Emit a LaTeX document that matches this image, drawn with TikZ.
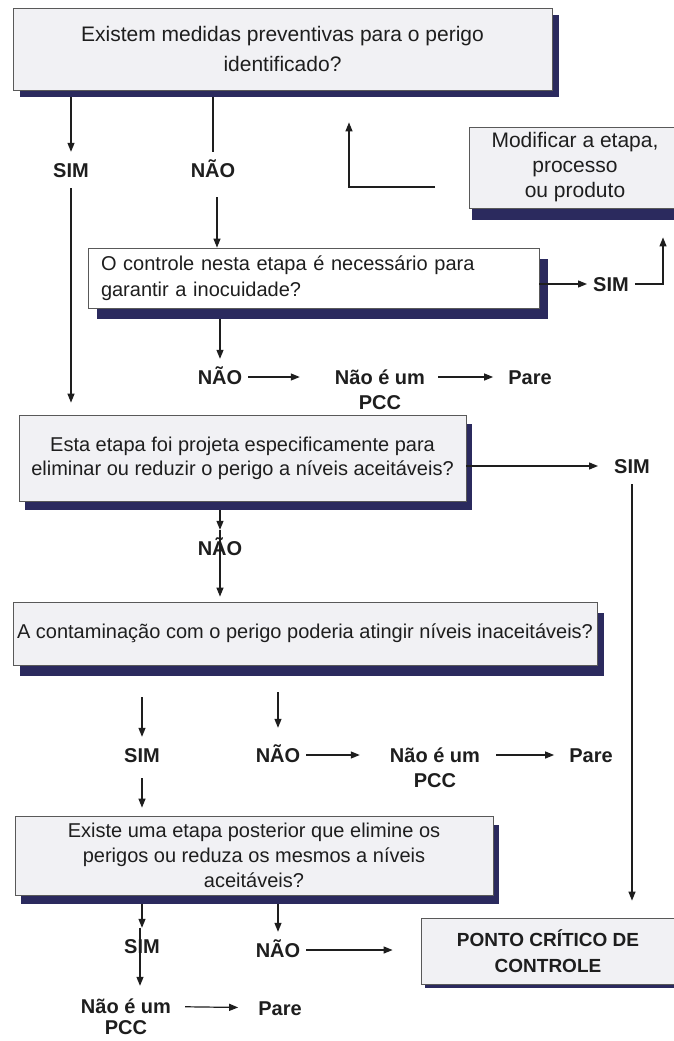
\documentclass[tikz,border=0pt]{standalone}
\usepackage{fontspec}
\setmainfont{Liberation Sans}
\usetikzlibrary{arrows.meta, positioning, calc, shadows}

\definecolor{boxfill}{HTML}{F1F1F4}
\definecolor{navy}{HTML}{2B2A5E}
\definecolor{ink}{HTML}{1E1E1E}

\begin{document}
\begin{tikzpicture}[
		x=1pt, y=1pt,
		>={Triangle[length=9pt, width=7pt]},
		box/.style={rectangle, draw=black!65, line width=0.8pt, fill=boxfill, text=ink, align=center, inner sep=2pt, font=\fontsize{20}{24}\selectfont},
		boxshadow/.style 2 args={drop shadow={shadow xshift=#1, shadow yshift=-#2, opacity=1, fill=navy}},
		lab/.style={font=\bfseries\fontsize{20}{22}\selectfont, text=ink, inner xsep=6pt, inner ysep=10pt, text height=15pt, text depth=1pt},
		ln/.style={line width=1.2pt, draw=ink},
		arr/.style={ln, ->}
		]
		
		\path[use as bounding box, fill=white] (0,0) rectangle (674,-1041);
		
		% Main boxes
		\node[box, boxshadow={7pt}{7pt}, minimum width=539pt, minimum height=82pt, font=\fontsize{21}{30}\selectfont] (q1) at (282.5,-49) {Existem medidas preventivas para o perigo\\identificado?};
		\node[box, boxshadow={3pt}{12pt}, minimum width=212pt, minimum height=81pt, font=\fontsize{21}{25}\selectfont] (mod) at (575,-167.5) {Modificar a etapa,\\processo\\ou produto};
		\node[box, boxshadow={9pt}{11pt}, fill=white, minimum width=451pt, minimum height=60pt, text width=425pt, align=left, inner xsep=13pt, font=\fontsize{20}{26}\selectfont] (q2) at (313.5,-278) {O controle nesta etapa é necessário para\\garantir a inocuidade?};
		\node[box, boxshadow={6pt}{9pt}, minimum width=447pt, minimum height=86pt] (q3) at (242.5,-458) {Esta etapa foi projeta especificamente para\\eliminar ou reduzir o perigo a níveis aceitáveis?};
		\node[box, boxshadow={7pt}{11pt}, minimum width=584pt, minimum height=63pt] (q4) at (305,-633.5) {A contaminação com o perigo poderia atingir níveis inaceitáveis?};
		\node[box, boxshadow={6pt}{9pt}, minimum width=478pt, minimum height=79pt, font=\fontsize{20}{25}\selectfont] (q5) at (254,-855.5) {Existe uma etapa posterior que elimine os\\perigos ou reduza os mesmos a níveis\\aceitáveis?};
		\node[box, boxshadow={4pt}{4pt}, minimum width=254pt, minimum height=66pt, font=\bfseries\fontsize{19}{26}\selectfont] (ponto) at (548,-951) {PONTO CRÍTICO DE\\CONTROLE};
		
		% Answers
		\node[lab] (simA) at (71,-170) {SIM};
		\node[lab] (naoA) at (213,-170) {NÃO};
		\node[lab] (simB) at (611,-284) {SIM};
		\node[lab] (naoB) at (220,-377) {NÃO};
		\node[lab] (ncA) at (380,-377) {Não é um};
		\node[lab] (pccA) at ([yshift=-25pt]ncA) {PCC};
		\node[lab] (pareA) at (530,-377) {Pare};
		\node[lab] (simC) at (632,-466) {SIM};
		\node[lab] (naoC) at (220,-548) {NÃO};
		\node[lab] (simD) at (142,-755) {SIM};
		\node[lab] (naoD) at (278,-755) {NÃO};
		\node[lab] (ncB) at (435,-755) {Não é um};
		\node[lab] (pccB) at ([yshift=-25pt]ncB) {PCC};
		\node[lab] (pareB) at (591,-755) {Pare};
		\node[lab] (simE) at (142,-946) {SIM};
		\node[lab] (naoE) at (278,-950) {NÃO};
		\node[lab] (ncC) at (126,-1006) {Não é um};
		\node[lab, inner ysep=2pt] (pccC) at ([yshift=-21pt]ncC) {PCC};
		\node[lab] (pareC) at (280,-1008) {Pare};
		
		% Arrows
		\draw[arr, shorten <=7pt] (simA |- q1.south) -- (simA);
		\draw[arr, shorten >=12pt] (simA) -- (simA |- q3.north);
		\draw[ln, shorten <=7pt] (naoA |- q1.south) -- (naoA);
		\draw[arr, shorten <=9pt] ([xshift=4pt]naoA.south) -- ([xshift=4pt]naoA.south |- q2.north);
		
		% back to the first question
		\coordinate (ret) at (435,-187);
		\draw[arr, shorten >=32pt] (ret) -| ([xshift=66.5pt]q1.south);
		
		\draw[arr] (q2.east |- simB) -- (simB);
		\draw[arr, shorten >=29pt] (simB) -| ([xshift=88pt]mod.south);
		\draw[arr, shorten <=11pt] (naoB |- q2.south) -- (naoB);
		\draw[arr, shorten >=29pt] (naoB) -- (ncA);
		\draw[arr, shorten <=7pt, shorten >=9pt] (ncA) -- (pareA);
		
		\draw[arr, shorten >=10pt] (q3.east |- simC) -- (simC);
		\draw[arr, shorten >=17pt] (simC) -- (simC |- ponto.north);
		\draw[arr, shorten <=9pt] (naoC |- q3.south) -- (naoC);
		\draw[arr, shorten >=5pt] (naoC.north) -- (naoC |- q4.north);
		
		\draw[arr, shorten <=32pt] (simD |- q4.south) -- (simD);
		\draw[arr, shorten <=27pt, shorten >=9pt] (naoD |- q4.south) -- (naoD);
		\draw[arr, shorten >=24pt] (naoD) -- (ncB);
		\draw[arr, shorten <=10pt, shorten >=9pt] (ncB) -- (pareB);
		\draw[arr, shorten <=5pt, shorten >=8pt] (simD) -- (simD |- q5.north);
		
		\draw[arr, shorten <=9pt] (simE |- q5.south) -- (simE);
		\draw[arr, shorten >=2pt] ([xshift=-2pt]simE.north) -- ([xshift=-2pt]simE.north |- ncC.north);
		\draw[arr, shorten <=9pt] (naoE |- q5.south) -- (naoE);
		\draw[arr, shorten >=28pt] (naoE) -- (naoE -| ponto.west);
		\draw[arr, shorten <=8pt, shorten >=14pt] (ncC) -- (pareC);
		
	\end{tikzpicture}
\end{document}
